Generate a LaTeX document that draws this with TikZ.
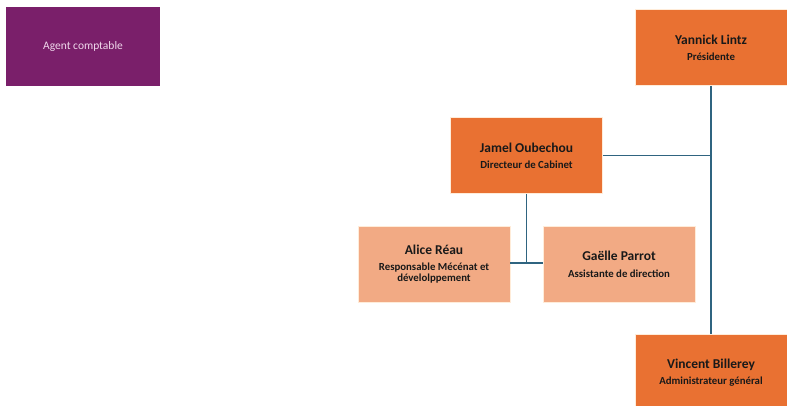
\documentclass[tikz,border=0pt]{standalone}
\usepackage{fontspec}
\setmainfont{Carlito}
\definecolor{purplebox}{HTML}{7A1F6A}
\definecolor{orangebox}{HTML}{E97132}
\definecolor{peachbox}{HTML}{F2AA84}
\definecolor{linkcol}{HTML}{2F6480}
\definecolor{agenttxt}{HTML}{F0D8EC}
\newcommand{\nmfont}{\fontsize{13.5}{15}\selectfont\bfseries}
\newcommand{\rlfont}{\fontsize{10.8}{12}\selectfont\bfseries}
\begin{document}
\begin{tikzpicture}[x=1pt,y=-1pt,
  box/.style={rectangle,draw=white!85!orange,line width=0.6pt,minimum width=152pt,minimum height=76pt,align=center,inner sep=2pt,text=black!90},
  dark/.style={box,fill=orangebox},
  light/.style={box,fill=peachbox},
  agent/.style={rectangle,fill=purplebox,minimum width=154pt,minimum height=79pt,text=agenttxt,font=\fontsize{11.5}{13}\selectfont},
  link/.style={draw=linkcol,line width=1.3pt}]
\useasboundingbox (0,0) rectangle (787,406);
\node[agent] (agent) at (83,46.5) {Agent comptable};
\node[dark] (yannick) at (711,47.5) {{\nmfont Yannick Lintz}\\[4pt]{\rlfont Présidente}};
\node[dark] (jamel) at (526.5,155.5) {{\nmfont Jamel Oubechou}\\[4pt]{\rlfont Directeur de Cabinet}};
\node[light] (alice) at (434,264.5) {{\nmfont Alice Réau}\\[4pt]{\rlfont Responsable Mécénat et}\\[-1pt]{\rlfont dévelolppement}};
\node[light] (gaelle) at (619,264.5) {{\nmfont Gaëlle Parrot}\\[5pt]{\rlfont Assistante de direction}};
\node[dark] (vincent) at (711,372.5) {{\nmfont Vincent Billerey}\\[4pt]{\rlfont Administrateur général}};
\coordinate (trunk) at (yannick.south |- jamel.east);
\coordinate (sub) at (526.5,263);
\draw[link] (yannick.south) -- (vincent.north);
\draw[link] (jamel.east) -- (trunk);
\draw[link] (jamel.south) -- (sub);
\draw[link] (alice.east |- sub) -- (gaelle.west |- sub);
\end{tikzpicture}
\end{document}
